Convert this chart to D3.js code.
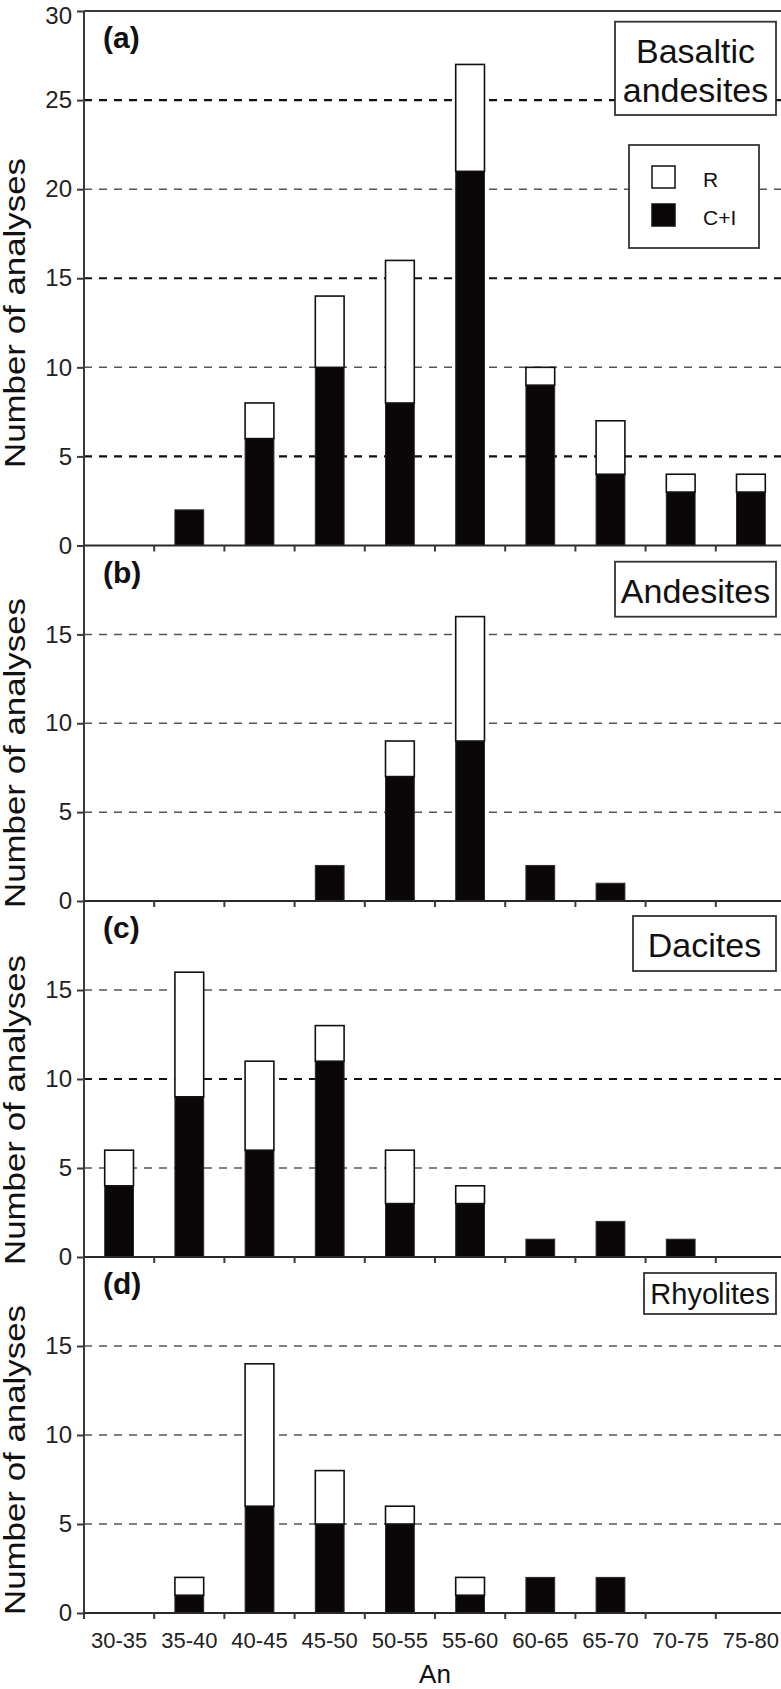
<!DOCTYPE html>
<html>
<head>
<meta charset="utf-8">
<script src="https://cdn.jsdelivr.net/npm/d3@7"></script>
<style>
  body { margin: 0; background: #fff; }
  svg { display: block; font-family: "Liberation Sans", Arial, Helvetica, sans-serif; }
</style>
</head>
<body>
<div id="chart"></div>
<script>
// An content bins
const bins = ["30-35", "35-40", "40-45", "45-50", "50-55", "55-60", "60-65", "65-70", "70-75", "75-80"];

// C+I = cores + interiors, R = rims
const basalticCI = [0, 2, 6, 10, 8, 21, 9, 4, 3, 3];
const basalticR  = [0, 0, 2, 4, 8, 6, 1, 3, 1, 1];
const andesiteCI = [0, 0, 0, 2, 7, 9, 2, 1, 0, 0];
const andesiteR  = [0, 0, 0, 0, 2, 7, 0, 0, 0, 0];
const daciteCI   = [4, 9, 6, 11, 3, 3, 1, 2, 1, 0];
const daciteR    = [2, 7, 5, 2, 3, 1, 0, 0, 0, 0];
const rhyoliteCI = [0, 1, 6, 5, 5, 1, 2, 2, 0, 0];
const rhyoliteR  = [0, 1, 8, 3, 1, 1, 0, 0, 0, 0];

const ticksA = [0, 5, 10, 15, 20, 25, 30];
const ticksBCD = [0, 5, 10, 15];

const width = 781, height = 1689;
const left = 84, right = 786;

const panels = [
  {tag: "(a)", name: ["Basaltic", "andesites"], ci: basalticCI, r: basalticR, max: 30, ticks: ticksA,
   top: 11, bottom: 545.5, bold: [5, 15, 25], box: [615, 21.7, 161, 93.3], base: [63.3, 101.7], fs: 34, ylab: 158},
  {tag: "(b)", name: ["Andesites"], ci: andesiteCI, r: andesiteR, max: 20, ticks: ticksBCD,
   top: 545.5, bottom: 901, bold: [], box: [615, 561.7, 161, 55], base: [602.7], fs: 34, ylab: 598},
  {tag: "(c)", name: ["Dacites"], ci: daciteCI, r: daciteR, max: 20, ticks: ticksBCD,
   top: 901, bottom: 1257, bold: [10], box: [633, 916, 143, 55], base: [956.7], fs: 34, ylab: 955},
  {tag: "(d)", name: ["Rhyolites"], ci: rhyoliteCI, r: rhyoliteR, max: 20, ticks: ticksBCD,
   top: 1257, bottom: 1613, bold: [], box: [644, 1273, 132, 41], base: [1304], fs: 29, ylab: 1305}
];

const svg = d3.select("#chart").append("svg")
  .attr("width", width)
  .attr("height", height);

const x = d3.scaleBand()
  .domain(bins)
  .range([left, right])
  .padding(0);

const barW = x.bandwidth() * 0.41;

panels.forEach((p, pi) => {
  const y = d3.scaleLinear()
    .domain([0, p.max])
    .range([p.bottom, p.top]);

  const g = svg.append("g");

  // dashed gridlines
  g.selectAll(".grid")
    .data(p.ticks.filter(v => v > 0 && v < p.max))
    .enter()
    .append("line")
      .attr("x1", left)
      .attr("x2", right)
      .attr("y1", d => y(d))
      .attr("y2", d => y(d))
      .attr("stroke", d => p.bold.includes(d) ? "#111" : "#555")
      .attr("stroke-width", d => p.bold.includes(d) ? 2.2 : 1.5)
      .attr("stroke-dasharray", "8,7");

  // top border only on the first panel
  if (pi === 0) {
    g.append("line")
      .attr("x1", left).attr("x2", right)
      .attr("y1", y(p.max)).attr("y2", y(p.max))
      .attr("stroke", "#3a3a3a").attr("stroke-width", 2);
  }

  // stacked bars
  const rows = bins.map((b, i) => ({bin: b, ci: p.ci[i], r: p.r[i]}));
  const stacked = d3.stack().keys(["ci", "r"])(rows);

  g.selectAll(".series")
    .data(stacked)
    .enter()
    .append("g")
      .attr("fill", d => d.key === "ci" ? "#0b0709" : "#fff")
      .attr("stroke", d => d.key === "ci" ? "#2a2a2a" : "#111")
      .attr("stroke-width", d => d.key === "ci" ? 1 : 1.6)
    .selectAll("rect")
    .data(d => d.filter(s => s[1] > s[0]))
    .enter()
    .append("rect")
      .attr("x", d => x(d.data.bin) + (x.bandwidth() - barW) / 2)
      .attr("y", d => y(d[1]))
      .attr("width", barW)
      .attr("height", d => y(d[0]) - y(d[1]));

  // y axis
  const yAxis = d3.axisLeft(y)
    .tickValues(p.ticks.filter(v => v < p.max || pi === 0))
    .tickSize(7)
    .tickSizeOuter(0)
    .tickPadding(5);

  const ya = g.append("g")
    .attr("transform", "translate(" + left + ",0)")
    .call(yAxis);
  ya.select(".domain").remove();
  ya.selectAll(".tick line").attr("stroke", "#3a3a3a").attr("stroke-width", 2);
  ya.selectAll(".tick text")
    .attr("font-size", 24)
    .attr("fill", "#222")
    .attr("font-family", "Liberation Sans, Arial, sans-serif")
    .attr("dy", d => d === 30 ? "0.5em" : "0.32em");

  g.append("line")
    .attr("x1", left).attr("x2", left)
    .attr("y1", p.top)
    .attr("y2", p.bottom + (pi === panels.length - 1 ? 6 : 0))
    .attr("stroke", "#3a3a3a").attr("stroke-width", 2);

  // x axis line and boundary ticks
  g.append("line")
    .attr("x1", left).attr("x2", right)
    .attr("y1", y(0)).attr("y2", y(0))
    .attr("stroke", "#2a2a2a").attr("stroke-width", 2);

  g.selectAll(".xtick")
    .data(bins.slice(1))
    .enter()
    .append("line")
      .attr("x1", d => x(d)).attr("x2", d => x(d))
      .attr("y1", y(0)).attr("y2", y(0) + 6)
      .attr("stroke", "#3a3a3a").attr("stroke-width", 2);

  // panel tag
  g.append("text")
    .attr("x", 103)
    .attr("y", p.top + 37)
    .attr("font-size", 30)
    .attr("font-weight", "bold")
    .attr("fill", "#111")
    .text(p.tag);

  // rock-type box
  g.append("rect")
    .attr("x", p.box[0]).attr("y", p.box[1])
    .attr("width", p.box[2]).attr("height", p.box[3])
    .attr("fill", "#fff")
    .attr("stroke", "#333").attr("stroke-width", 1.8);

  p.name.forEach((t, i) => {
    g.append("text")
      .attr("x", p.box[0] + p.box[2] / 2)
      .attr("y", p.base[i])
      .attr("text-anchor", "middle")
      .attr("font-size", p.fs)
      .attr("fill", "#111")
      .text(t);
  });

  // y label
  g.append("text")
    .attr("transform", "translate(25," + p.ylab + ") rotate(-90)")
    .attr("text-anchor", "end")
    .attr("font-size", 29)
    .attr("textLength", 310)
    .attr("lengthAdjust", "spacingAndGlyphs")
    .attr("fill", "#111")
    .text("Number of analyses");

  // x tick labels on the bottom panel
  if (pi === panels.length - 1) {
    const xa = g.append("g")
      .attr("transform", "translate(0," + y(0) + ")")
      .call(d3.axisBottom(x).tickSize(0).tickPadding(19));
    xa.select(".domain").remove();
    xa.selectAll(".tick text")
      .attr("font-size", 22)
      .attr("fill", "#222")
      .attr("font-family", "Liberation Sans, Arial, sans-serif");

    g.append("text")
      .attr("x", (left + right) / 2)
      .attr("y", 1683)
      .attr("text-anchor", "middle")
      .attr("font-size", 26)
      .attr("fill", "#111")
      .text("An");
  }
});

// legend in panel (a)
const legendKeys = ["R", "C+I"];
const legend = svg.append("g");
legend.append("rect")
  .attr("x", 629).attr("y", 145)
  .attr("width", 130).attr("height", 103)
  .attr("fill", "#fff")
  .attr("stroke", "#333").attr("stroke-width", 1.8);

const lg = legend.selectAll(".item")
  .data(legendKeys)
  .enter()
  .append("g")
    .attr("transform", (d, i) => "translate(652," + (166 + i * 38) + ")");

lg.append("rect")
  .attr("width", 23).attr("height", 22)
  .attr("fill", d => d === "R" ? "#fff" : "#0b0709")
  .attr("stroke", "#111").attr("stroke-width", 1.5);

lg.append("text")
  .attr("x", 51)
  .attr("y", 21)
  .attr("font-size", 21)
  .attr("fill", "#111")
  .text(d => d);
</script>
</body>
</html>
